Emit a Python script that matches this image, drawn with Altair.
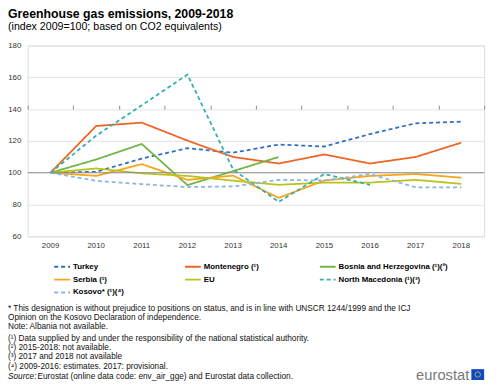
import altair as alt
import pandas as pd

years = [2009, 2010, 2011, 2012, 2013, 2014, 2015, 2016, 2017, 2018]
series_names = [
    "Turkey",
    "Montenegro (¹)",
    "Bosnia and Herzegovina (¹)(²)",
    "Serbia (¹)",
    "EU",
    "North Macedonia (¹)(³)",
    "Kosovo* (¹)(⁴)",
]
turkey = [100, 100.6, 108.9, 115.4, 112.6, 117.7, 116.5, 124.3, 131.1, 132.1]
montenegro = [100, 129.4, 131.5, 120.2, 109.9, 105.8, 111.5, 105.8, 109.9, 118.9]
bosnia = [100, 108.3, 118.1, 92.2, 101.0, 109.9, None, None, None, None]
serbia = [100, 98.0, 105.4, 95.5, 98.2, 84.2, 95.1, 98.0, 99.2, 96.9]
eu = [100, 102.7, 99.6, 98.0, 95.0, 92.4, 93.8, 93.8, 95.5, 93.0]
north_macedonia = [100, 123.3, 142.4, 161.7, 102.0, 81.7, 99.2, 92.4, None, None]
kosovo = [100, 94.9, 92.8, 91.0, 91.4, 95.5, 95.1, 99.2, 90.8, 90.8]

series_values = [turkey, montenegro, bosnia, serbia, eu, north_macedonia, kosovo]
colors = ["#2E6EC2", "#F06423", "#71B545", "#FAA519", "#B9C31E", "#32AFAF", "#8CB4E6"]
dashes = [[4, 3], [1, 0], [1, 0], [1, 0], [1, 0], [4, 3], [4, 3]]
y_ticks = [60, 80, 100, 120, 140, 160, 180]
y_min, y_max, y_base = 60, 180, 100

rows = []
for name, vals in zip(series_names, series_values):
    for y, v in zip(years, vals):
        if v is not None:
            rows.append({"year": str(y), "series": name, "value": v})
df = pd.DataFrame(rows)
year_df = pd.DataFrame({"year": [str(y) for y in years]})

title_text = "Greenhouse gas emissions, 2009-2018"
subtitle_text = "(index 2009=100; based on CO2 equivalents)"
notes1 = [
    "* This designation is without prejudice to positions on status, and is in line with UNSCR  1244/1999 and the ICJ",
    "Opinion on the Kosovo Declaration of independence.",
    "Note: Albania not available.",
]
notes2 = [
    "(¹) Data supplied by and under the responsibility of the national statistical authority.",
    "(²) 2015-2018: not available.",
    "(³) 2017 and 2018 not available",
    "(⁴) 2009-2016: estimates. 2017: provisional.",
]
source_text = ["Source:", "Eurostat (online data code: env_air_gge) and Eurostat data collection."]

FONT = "Liberation Sans"
W, H = 464, 194

legend = alt.Legend(
    title=None, orient="none", legendX=26, legendY=216, columns=3, direction="horizontal",
    symbolType="stroke", symbolSize=256, symbolStrokeWidth=2,
    labelFont=FONT, labelFontSize=8, labelFontWeight="bold", labelColor="#000000",
    columnPadding=58, rowPadding=0, labelOffset=2, labelLimit=200,
)

x_scale = alt.Scale(type="band", paddingInner=0, paddingOuter=0)
x_enc = alt.X("year:O", title=None, scale=x_scale, bandPosition=0.5,
              axis=alt.Axis(labelAngle=0, domain=False, ticks=False, labelPadding=5,
                            labelFont=FONT, labelFontSize=8, labelColor="#333333"))

y_axis = alt.Axis(values=y_ticks, domain=False, ticks=False, labelOverlap=False,
                  labelPadding=7, labelFont=FONT, labelFontSize=8, labelColor="#333333",
                  gridColor="#E3E3E3", gridWidth=1)
y_scale = alt.Scale(domain=[y_min, y_max], nice=False, zero=False)

lines = alt.Chart(df).mark_line(strokeWidth=1.8).encode(
    x=x_enc,
    y=alt.Y("value:Q", title=None, scale=y_scale, axis=y_axis),
    color=alt.Color("series:N", scale=alt.Scale(domain=series_names, range=colors), legend=legend),
    strokeDash=alt.StrokeDash("series:N", scale=alt.Scale(domain=series_names, range=dashes), legend=legend),
    order=alt.Order("year:O"),
)

# tick marks hanging from the 100 base line (axis crossing at 100)
base_offset = -H * (y_base - y_min) / (y_max - y_min)
tick_axis = alt.Chart(year_df).mark_point(opacity=0).encode(
    x=alt.X("year:O", title=None, scale=x_scale,
            axis=alt.Axis(labels=False, domain=False, ticks=True, tickBand="extent",
                          tickSize=4, tickColor="#8C8C8C", tickWidth=1, grid=False,
                          offset=base_offset)),
)

base_rule_df = pd.DataFrame({"value": [y_base]})
rule100 = alt.Chart(base_rule_df).mark_rule(color="#8C8C8C", strokeWidth=1).encode(
    y=alt.Y("value:Q", title=None, scale=y_scale, axis=y_axis)
)

one = pd.DataFrame({"a": [0]})

def text_layer(txt, x, y, size, weight="normal", color="#000000", align="left", style="normal", lh=None):
    kw = dict(font=FONT, fontSize=size, fontWeight=weight, color=color, align=align,
              baseline="alphabetic", fontStyle=style)
    if lh is not None:
        kw["lineHeight"] = lh
    return alt.Chart(one).mark_text(**kw).encode(
        x=alt.value(x), y=alt.value(y), text=alt.value(txt))

title = text_layer(title_text, -20, -28, 12.5, weight="bold")
subtitle = text_layer(subtitle_text, -20, -16, 10.8)
n1 = text_layer(notes1, -20, 269.5, 8.4, lh=9.6, color="#111111")
n2 = text_layer(notes2, -20, 300, 8.4, lh=9.6, color="#111111")
src_a = text_layer(source_text[0], -20, 339, 8.4, style="italic", color="#111111")
src_b = text_layer(source_text[1], 10, 339, 8.4, color="#111111")
logo_text = text_layer("eurostat", 449, 340, 15, color="#7A7A7A", align="right")
flag = alt.Chart(one).mark_rect(color="#0E47CB").encode(
    x=alt.value(451), x2=alt.value(464), y=alt.value(329), y2=alt.value(340))
stars = alt.Chart(one).mark_point(shape="circle", color="#FFDD00", size=30, strokeWidth=1).encode(
    x=alt.value(457.5), y=alt.value(334.5))

chart = alt.layer(
    lines, tick_axis, rule100, title, subtitle, n1, n2, src_a, src_b, logo_text, flag, stars
).resolve_axis(x="independent").properties(
    width=W, height=H,
    autosize=alt.AutoSizeParams(type="none"),
    padding={"left": 20, "top": 35, "right": 8, "bottom": 148},
).configure_view(stroke=None).configure(background="white")

chart.save("out.html", embed_options={"renderer": "svg", "actions": False})
